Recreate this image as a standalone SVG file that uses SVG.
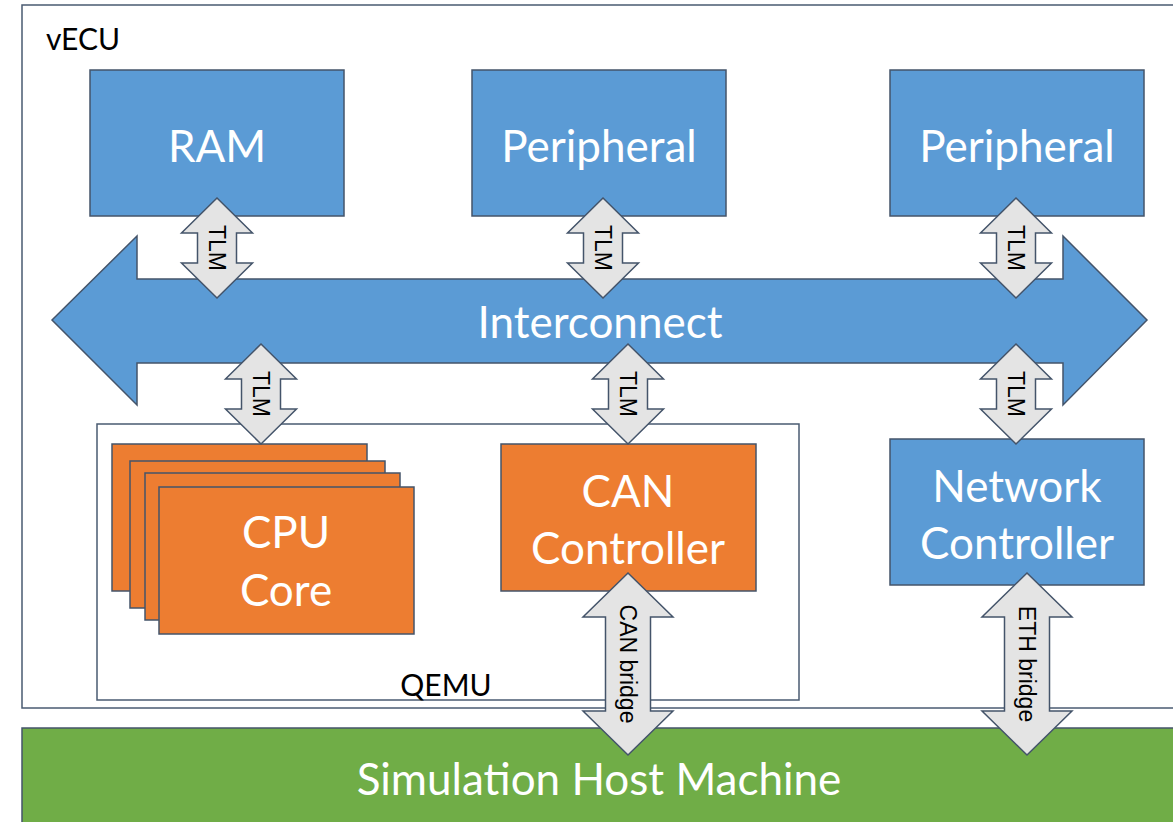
<svg xmlns="http://www.w3.org/2000/svg" width="1173" height="822" viewBox="0 0 1173 822">
  <style>
    .frame { fill: #FFFFFF; stroke: #4A5B72; stroke-width: 1.5; }
    .blue { fill: #5B9BD5; stroke: #44546A; stroke-width: 1.5; }
    .orange { fill: #ED7D31; stroke: #44546A; stroke-width: 1.5; }
    .green { fill: #70AD47; stroke: #44546A; stroke-width: 1.5; }
    .link { fill: #E4E4E4; stroke: #44546A; stroke-width: 1.5; stroke-linejoin: miter; }
    .big { font-family: "Lato", "Open Sans", "Liberation Sans", sans-serif; font-size: 44px; fill: #FFFFFF; text-anchor: middle; }
    .lab { font-family: "Lato", "Open Sans", "Liberation Sans", sans-serif; font-size: 30px; fill: #000000; }
    .small { font-family: "Liberation Sans", Arial, sans-serif; font-size: 23px; fill: #000000; text-anchor: middle; dominant-baseline: central; }
  </style>
  <defs>
    <path id="tlm" d="M0,-50 L35.5,-15 L19.5,-15 L19.5,15 L35.5,15 L0,50 L-35.5,15 L-19.5,15 L-19.5,-15 L-35.5,-15 Z"/>
    <path id="bridge" d="M0,-91 L45,-47 L22.5,-47 L22.5,47 L45,47 L0,91 L-45,47 L-22.5,47 L-22.5,-47 L-45,-47 Z"/>
  </defs>

  <rect width="1173" height="822" fill="#FFFFFF"/>

  <!-- outer virtual ECU frame -->
  <g id="vecu">
    <rect class="frame" x="22" y="5" width="1160" height="703"/>
    <text class="lab" x="46" y="50">vECU</text>
  </g>

  <!-- host machine bar -->
  <g id="host">
    <rect class="green" x="22" y="728" width="1160" height="100"/>
    <text class="big" x="599" y="795">Simulation Host Machine</text>
  </g>

  <!-- QEMU container -->
  <g id="qemu">
    <rect class="frame" x="97" y="424" width="702" height="276"/>
    <text class="lab" x="446" y="696" text-anchor="middle">QEMU</text>
  </g>

  <g id="ram">
    <rect class="blue" x="90" y="70" width="254" height="146"/>
    <text class="big" x="217" y="162">RAM</text>
  </g>
  <g id="peripheral1">
    <rect class="blue" x="472" y="70" width="254" height="146"/>
    <text class="big" x="599" y="162">Peripheral</text>
  </g>
  <g id="peripheral2">
    <rect class="blue" x="890" y="70" width="254" height="146"/>
    <text class="big" x="1017" y="162">Peripheral</text>
  </g>

  <g id="interconnect">
    <path class="blue" d="M52,320 L137,236 L137,279 L1063,279 L1063,236 L1147,320 L1063,405 L1063,363 L137,363 L137,405 Z"/>
    <text class="big" x="600" y="338">Interconnect</text>
  </g>

  <!-- stacked CPU cores -->
  <g id="cpu">
    <rect class="orange" x="112" y="444" width="255" height="147"/>
    <rect class="orange" x="130" y="461" width="255" height="147"/>
    <rect class="orange" x="145" y="473" width="255" height="147"/>
    <rect class="orange" x="159" y="487" width="255" height="147"/>
    <text class="big" x="286" y="548">CPU</text>
    <text class="big" x="286" y="606">Core</text>
  </g>

  <g id="can">
    <rect class="orange" x="501" y="444" width="255" height="147"/>
    <text class="big" x="628" y="507">CAN</text>
    <text class="big" x="628" y="564">Controller</text>
  </g>

  <g id="netctrl">
    <rect class="blue" x="890" y="439" width="254" height="146"/>
    <text class="big" x="1017" y="502">Network</text>
    <text class="big" x="1017" y="559">Controller</text>
  </g>

  <!-- bidirectional links -->
  <g id="connectors">
    <g transform="translate(217,248)"><use href="#tlm" class="link"/><text class="small" transform="rotate(90)">TLM</text></g>
    <g transform="translate(603,248)"><use href="#tlm" class="link"/><text class="small" transform="rotate(90)">TLM</text></g>
    <g transform="translate(1016,248)"><use href="#tlm" class="link"/><text class="small" transform="rotate(90)">TLM</text></g>
    <g transform="translate(261,394)"><use href="#tlm" class="link"/><text class="small" transform="rotate(90)">TLM</text></g>
    <g transform="translate(628,394)"><use href="#tlm" class="link"/><text class="small" transform="rotate(90)">TLM</text></g>
    <g transform="translate(1016,394)"><use href="#tlm" class="link"/><text class="small" transform="rotate(90)">TLM</text></g>
    <g transform="translate(628,664)"><use href="#bridge" class="link"/><text class="small" transform="rotate(90)">CAN bridge</text></g>
    <g transform="translate(1027,664)"><use href="#bridge" class="link"/><text class="small" transform="rotate(90)">ETH bridge</text></g>
  </g>
</svg>
